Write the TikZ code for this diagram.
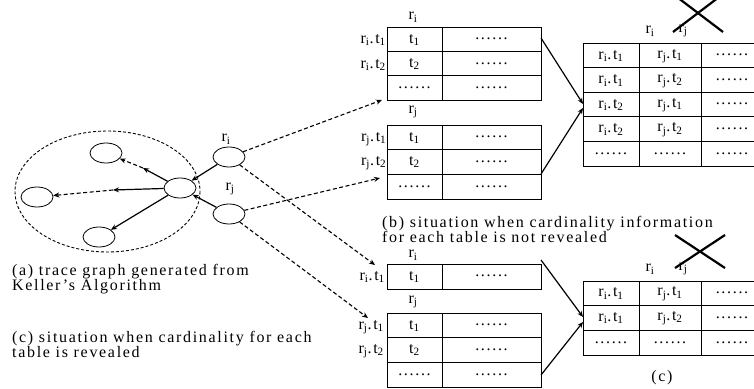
\documentclass[tikz,border=0pt]{standalone}
\usepackage{fontspec}
\setmainfont{Liberation Serif}[LetterSpace=10.5]
\usetikzlibrary{arrows.meta,shapes.geometric}
\tikzset{
  gnode/.style={ellipse,draw,minimum width=32pt,minimum height=20pt,inner sep=0pt,line width=0.8pt},
  txt/.style={font=\fontsize{16}{15}\selectfont,inner sep=0pt},
  rlab/.style={txt,anchor=east},
  arr/.style={-{Stealth[length=6pt,width=5pt]},line width=1.2pt},
  darr/.style={-{Stealth[length=6pt,width=5pt]},line width=1.1pt,dash pattern=on 4pt off 2.5pt},
  tbl/.style={line width=0.9pt},
  cross/.style={line width=2.2pt},
}
\newcommand{\ri}{r\textsubscript{i}}
\newcommand{\rj}{r\textsubscript{j}}
\newcommand{\dd}{......}
\begin{document}
\begin{tikzpicture}[x=1pt,y=-1pt]
\useasboundingbox (0,0) rectangle (754,388);
\clip (0,0) rectangle (754,388);

% ---------- trace graph ----------
\draw[line width=0.9pt,dash pattern=on 3pt off 2pt] (107.5,191.5) ellipse [x radius=92.5,y radius=60.5];
\node[gnode] (T) at (106,153) {};
\node[gnode] (L) at (37,197) {};
\node[gnode] (Bo) at (99,237) {};
\node[gnode] (C) at (180,188) {};
\node[gnode] (Ri) at (229,157) {};
\node[gnode] (Rj) at (229,214) {};
\node[txt] (lri) at (226,139) {\ri};
\node[txt] (lrj) at (230,189) {\rj};
\coordinate (m1) at (143,168);
\coordinate (m2) at (113,190);
\draw[arr] (C) -- (m1);
\draw[darr] (m1) -- (T);
\draw[arr] (C) -- (m2);
\draw[darr] (m2) -- (L);
\draw[arr] (C) -- (Bo);
\draw[arr] (Ri) -- (C);
\draw[arr] (Rj) -- (C);

% ---------- captions ----------
\node[txt,anchor=west,align=left] (capa) at (12,279.5) {(a) trace graph generated from\\Keller's Algorithm};
\node[txt,anchor=west,align=left] (capc) at (12,344.5) {(c) situation when cardinality for each\\table is revealed};
\node[txt,anchor=west,align=left] (capb) at (382,229.5) {(b) situation when cardinality information\\for each table is not revealed};
\node[txt] (capcc) at (662,378) {(c)};

% ---------- table A (ri, top) ----------
\draw[tbl] (387,27) rectangle (541,100);
\draw[tbl] (442,27) -- (442,100) (387,51.3) -- (541,51.3) (387,75.7) -- (541,75.7);
\node[txt] (Al) at (413,17) {\ri};
\node[txt] (A11) at (414.5,40) {t\textsubscript{1}};
\node[txt] (A12) at (491.5,39) {\dd};
\node[txt] (A21) at (414.5,64) {t\textsubscript{2}};
\node[txt] (A22) at (491.5,63.5) {\dd};
\node[txt] (A31) at (414.5,88) {\dd};
\node[txt] (A32) at (491.5,88) {\dd};
\node[rlab] (Ar1) at (386,40) {\ri.t\textsubscript{1}};
\node[rlab] (Ar2) at (386,65) {\ri.t\textsubscript{2}};

% ---------- table B (rj, top) ----------
\draw[tbl] (387,125) rectangle (541,199);
\draw[tbl] (442,125) -- (442,199) (387,149.7) -- (541,149.7) (387,174.3) -- (541,174.3);
\node[txt] (Bl) at (413,112) {\rj};
\node[txt] (B11) at (414.5,138) {t\textsubscript{1}};
\node[txt] (B12) at (491.5,137) {\dd};
\node[txt] (B21) at (414.5,162) {t\textsubscript{2}};
\node[txt] (B22) at (491.5,162) {\dd};
\node[txt] (B31) at (414.5,187) {\dd};
\node[txt] (B32) at (491.5,187) {\dd};
\node[rlab] (Br1) at (386.5,139) {\rj.t\textsubscript{1}};
\node[rlab] (Br2) at (386.5,163) {\rj.t\textsubscript{2}};

% ---------- table C (ri, bottom) ----------
\draw[tbl] (387,264) rectangle (541,289);
\draw[tbl] (442,264) -- (442,289);
\node[txt] (Cl) at (413,255) {\ri};
\node[txt] (C11) at (414.5,277) {t\textsubscript{1}};
\node[txt] (C12) at (491.5,276) {\dd};
\node[rlab] (Cr1) at (385,277) {\ri.t\textsubscript{1}};

% ---------- table D (rj, bottom) ----------
\draw[tbl] (387,313) rectangle (541,387);
\draw[tbl] (442,313) -- (442,387) (387,337.7) -- (541,337.7) (387,362.3) -- (541,362.3);
\node[txt] (Dl) at (413,302) {\rj};
\node[txt] (D11) at (414.5,326) {t\textsubscript{1}};
\node[txt] (D12) at (491.5,325) {\dd};
\node[txt] (D21) at (414.5,350) {t\textsubscript{2}};
\node[txt] (D22) at (491.5,350) {\dd};
\node[txt] (D31) at (414.5,375) {\dd};
\node[txt] (D32) at (491.5,375) {\dd};
\node[rlab] (Dr1) at (384,327) {\rj.t\textsubscript{1}};
\node[rlab] (Dr2) at (384,351) {\rj.t\textsubscript{2}};

% ---------- table E (join, top) ----------
\draw[tbl] (583,43) rectangle (763,166);
\draw[tbl] (639,43) -- (639,166) (701,43) -- (701,166);
\foreach \yy in {67.6,92.2,116.8,141.4} {\draw[tbl] (583,\yy) -- (763,\yy);}
\node[txt] (El1) at (650,31) {\ri};
\node[txt] (El2) at (683,31) {\rj};
\node[txt] (E11) at (611,56) {\ri.t\textsubscript{1}};
\node[txt] (E12) at (670,56) {\rj.t\textsubscript{1}};
\node[txt] (E13) at (732,55) {\dd};
\node[txt] (E21) at (611,80.5) {\ri.t\textsubscript{1}};
\node[txt] (E22) at (670,80.5) {\rj.t\textsubscript{2}};
\node[txt] (E23) at (732,79.5) {\dd};
\node[txt] (E31) at (611,105) {\ri.t\textsubscript{2}};
\node[txt] (E32) at (670,105) {\rj.t\textsubscript{1}};
\node[txt] (E33) at (732,104) {\dd};
\node[txt] (E41) at (611,129.5) {\ri.t\textsubscript{2}};
\node[txt] (E42) at (670,129.5) {\rj.t\textsubscript{2}};
\node[txt] (E43) at (732,128.5) {\dd};
\node[txt] (E51) at (611,154) {\dd};
\node[txt] (E52) at (670,154) {\dd};
\node[txt] (E53) at (732,154) {\dd};
\draw[cross] (673,-6) -- (723,32) (673,32) -- (723,-6);

% ---------- table F (join, bottom) ----------
\draw[tbl] (583,281) rectangle (763,355);
\draw[tbl] (639,281) -- (639,355) (701,281) -- (701,355) (583,305.7) -- (763,305.7) (583,330.3) -- (763,330.3);
\node[txt] (Fl1) at (650,269) {\ri};
\node[txt] (Fl2) at (683,269) {\rj};
\node[txt] (F11) at (611,293.5) {\ri.t\textsubscript{1}};
\node[txt] (F12) at (670,293.5) {\rj.t\textsubscript{1}};
\node[txt] (F13) at (732,293) {\dd};
\node[txt] (F21) at (611,318) {\ri.t\textsubscript{1}};
\node[txt] (F22) at (670,318) {\rj.t\textsubscript{2}};
\node[txt] (F23) at (732,317.5) {\dd};
\node[txt] (F31) at (611,342.5) {\dd};
\node[txt] (F32) at (670,342.5) {\dd};
\node[txt] (F33) at (732,342.5) {\dd};
\draw[cross] (675,235) -- (725,268) (675,268) -- (725,235);

% ---------- dashed connectors ----------
\coordinate (a1) at (382,100);
\coordinate (a2) at (375,265);
\coordinate (a3) at (380,178);
\coordinate (a4) at (368,318);
\draw[darr] (Ri) -- (a1);
\draw[darr] (Ri) -- (a2);
\draw[darr] (Rj) -- (a3);
\draw[darr] (Rj) -- (a4);

% ---------- solid connectors to join tables ----------
\coordinate (s1) at (541,38);
\coordinate (s2) at (541,174);
\coordinate (e1) at (583,104);
\coordinate (e2) at (583,108);
\coordinate (s3) at (541,260);
\coordinate (s4) at (541,375);
\coordinate (e3) at (583,317);
\coordinate (e4) at (583,322);
\draw[arr] (s1) -- (e1);
\draw[arr] (s2) -- (e2);
\draw[arr] (s3) -- (e3);
\draw[arr] (s4) -- (e4);
\end{tikzpicture}
\end{document}
